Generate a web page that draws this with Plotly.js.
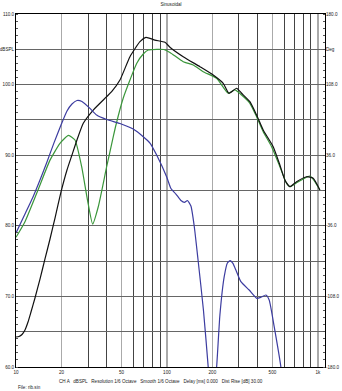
<!DOCTYPE html>
<html><head><meta charset="utf-8">
<script src="https://cdn.plot.ly/plotly-3.0.1.min.js"></script>
<style>html,body{margin:0;padding:0;background:#fff}#chart{width:342px;height:391px}</style>
</head><body><div id="chart"></div>
<script>
// Magnitude (black), dBSPL
const blackFreq = [10,10.47,10.96,11.47,12.01,12.57,13.36,14.42,15.56,16.8,18.13,19.87,21.77,23.49,25.35,27.91,32.5,39.88,43.03,48.84,56.89,66.26,72.6,83.27,97.0,104.7,128.2,165.4,202.6,236,257.4,289.5,312.3,354.5,392.7,434.3,505.8,560.2,604.6,652.7,722.8,841.6,931,1031];
const blackDb   = [64.25,64.32,64.6,65.24,66.37,67.79,69.77,72.46,75.3,78.13,81.1,84.79,87.9,90.03,92.15,94.52,96.4,98.29,99.0,100.65,103.95,106.08,106.7,106.3,106.0,105.3,103.95,102.54,101.36,100.18,98.77,99.48,98.77,97.58,95.69,93.57,91.2,88.61,86.49,85.54,86.25,86.95,86.73,85.07];
// Magnitude (green), dBSPL
const greenFreq = [10,11.47,13.99,16.8,19.56,22.27,24.59,27.23,29.76,32.2,35.08,39.88,44.1,45.95,51.36,56.89,63.0,69.66,75.2,85.87,95.5,104.7,128.2,149.4,173.9,213.4,254.7,282.1,312.3,354.5,392.7,434.3,493.6,560.2,620.4,652.7,722.8,841.6,885,955,1031];
const greenDb   = [78.37,80.58,85.07,89.3,91.68,92.8,92.15,88.37,83.65,80.25,82.7,88.37,92.62,94.28,98.1,100.65,103.0,104.33,104.9,105.0,104.97,104.55,103.24,102.78,101.83,100.9,98.77,99.24,98.53,97.35,95.45,93.33,91.2,88.37,86.0,85.54,86.1,86.87,87.05,86.25,85.07];
// Phase (blue), degrees
const blueFreq = [10,11.47,12.96,14.42,16.04,17.85,19.87,21.77,23.49,25.35,27.35,30.9,34.22,39.88,48.84,59.8,69.66,77.2,85.5,99.5,106.3,114.7,123.8,130.6,136.7,144.2,151.6,160.5,174.5,187.7,192.7,200.6,207.9,213.4,224.4,239.6,251.6,262.6,273.6,286.4,309.0,350.8,394.5,419.4,452.5,475.9,513.6,568.9,604.6];
const bluePhase= [-43.3,-24.0,-6.6,10.7,29.1,48.6,66.8,81.1,88.2,91.8,90.8,83.8,77.0,72.4,68.3,62.7,54.9,48.4,36.2,14.1,2.0,-3.6,-10.2,-12.2,-10.2,-15.8,-36.2,-69.9,-121.9,-180,-205,-212,-195,-180,-127,-87.9,-73.9,-71.6,-74.4,-81.1,-93.0,-101.5,-110.0,-108.9,-106.6,-111.7,-138.9,-180,-215];

const xTickVals = [10,20,50,100,200,500,1000];
const xTickText = ['10','20','50','100','200','500','1k'];
const xMinorVals = [30,40,60,70,80,90,300,400,600,700,800,900];
const yTickVals = [60,65,70,75,80,85,90,95,100,105,110];
const yTickText = ['60.0','','70.0','','80.0','','90.0','','100.0','dBSPL','110.0'];
const y2TickVals = [-180,-108,-36,36,108,144,180];
const y2TickText = ['-180.0','-108.0','-36.0','36.0','108.0','Deg','180.0'];

const f = {family:'Liberation Sans, Arial, sans-serif', size:4.6, color:'#222'};
const traces = [
  {x: blueFreq, y: bluePhase, yaxis:'y2', mode:'lines', line:{color:'#3c3ca0', width:1.2, shape:'spline', smoothing:0.5}, hoverinfo:'skip'},
  {x: greenFreq, y: greenDb, mode:'lines', line:{color:'#3a963a', width:1.2, shape:'spline', smoothing:0.5}, hoverinfo:'skip'},
  {x: blackFreq, y: blackDb, mode:'lines', line:{color:'#111', width:1.2, shape:'spline', smoothing:0.5}, hoverinfo:'skip'}
];
const layout = {
  width:342, height:391,
  margin:{l:16, r:17, t:14, b:24},
  paper_bgcolor:'#fff', plot_bgcolor:'#fff',
  showlegend:false,
  font:f,
  title:{text:'Sinusoidal', font:f, x:0.5, xanchor:'center', y:0.988, yanchor:'middle'},
  xaxis:{type:'log', range:[1, Math.log10(1115)], tickmode:'array', tickvals:xTickVals, ticktext:xTickText,
    showgrid:true, gridcolor:'#aaa', gridwidth:1.3, ticks:'', tickfont:f,
    minor:{tickmode:'array', tickvals:xMinorVals, showgrid:true, gridcolor:'#444', gridwidth:1, ticks:''},
    showline:true, linecolor:'#000', linewidth:1, mirror:true, zeroline:false, fixedrange:true},
  yaxis:{range:[60,110], tickmode:'array', tickvals:yTickVals, ticktext:yTickText,
    showgrid:true, gridcolor:'#666', gridwidth:1, ticks:'', tickfont:f,
    minor:{dtick:1, tick0:60, ticks:'inside', ticklen:2, tickcolor:'#555', showgrid:false},
    showline:true, linecolor:'#000', linewidth:1, mirror:true, zeroline:false, fixedrange:true},
  yaxis2:{overlaying:'y', side:'right', range:[-180,180], tickmode:'array', tickvals:y2TickVals, ticktext:y2TickText,
    showgrid:false, ticks:'', tickfont:f,
    minor:{dtick:7.2, tick0:-180, ticks:'inside', ticklen:2, tickcolor:'#555', showgrid:false},
    showline:false, zeroline:false, fixedrange:true},
  annotations:[
    {text:'CH A   dBSPL   Resolution 1/6 Octave   Smooth 1/6 Octave   Delay [ms] 0.000   Dist Rise [dB] 30.00', xref:'paper', yref:'paper', x:0.47, y:-0.04, xanchor:'center', yanchor:'middle', showarrow:false, font:f},
    {text:'File: rib.sin', xref:'paper', yref:'paper', x:0, y:-0.058, xanchor:'left', yanchor:'middle', showarrow:false, font:f}
  ]
};
Plotly.newPlot('chart', traces, layout, {staticPlot:true, displayModeBar:false});
</script></body></html>
